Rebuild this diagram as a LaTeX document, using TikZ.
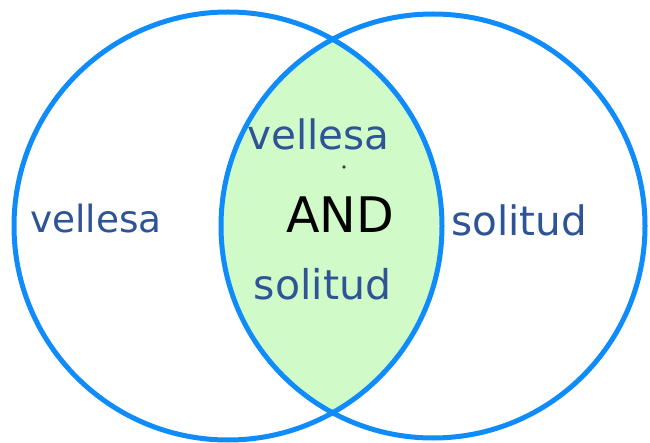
\documentclass[tikz,border=0pt]{standalone}
\usepackage{fontspec}
\setmainfont{DejaVu Sans}
\definecolor{ringblue}{RGB}{15,140,250}
\definecolor{txtblue}{RGB}{47,84,150}
\definecolor{lensgreen}{RGB}{208,250,200}
\begin{document}
\begin{tikzpicture}[x=1pt,y=-1pt,
  ring/.style={draw=ringblue,line width=5pt},
  lbl/.style={inner sep=0pt,anchor=base,text=txtblue}]
\useasboundingbox (0,0) rectangle (650,443);
\fill[white] (0,0) rectangle (650,443);
\coordinate (cl) at (228,226);
\coordinate (cr) at (433,226);
\begin{scope}
  \clip (cl) circle[radius=214];
  \fill[lensgreen] (cr) circle[radius=212];
\end{scope}
\draw[ring] (cl) circle[radius=214];
\draw[ring] (cr) circle[radius=212];
\node[lbl,font=\fontsize{37.5}{40}\selectfont] (vl) at (96,233) {vellesa};
\node[lbl,font=\fontsize{40.5}{44}\selectfont] (vc) at (318.5,150) {vellesa};
\node[inner sep=0pt,anchor=base,text=black,font=\fontsize{49}{52}\selectfont] (and) at (340,233) {AND};
\node[lbl,font=\fontsize{41}{44}\selectfont] (sc) at (322.5,300) {solitud};
\node[lbl,font=\fontsize{40.5}{44}\selectfont] (sr) at (519,236) {solitud};
\fill[black!75] (344,167) circle[radius=1.8];
\end{tikzpicture}
\end{document}
